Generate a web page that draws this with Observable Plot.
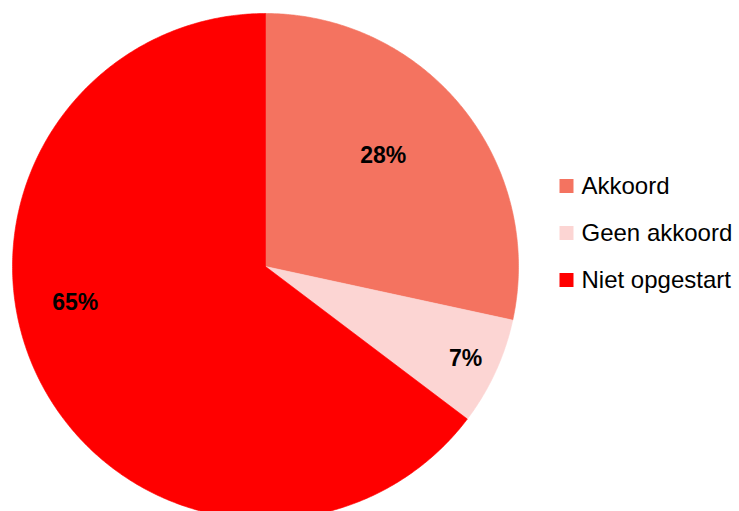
<!DOCTYPE html>
<html><head><meta charset="utf-8">
<script src="https://cdn.jsdelivr.net/npm/d3@7"></script>
<script src="https://cdn.jsdelivr.net/npm/@observablehq/plot@0.6"></script>
<style>body{margin:0;background:#fff}</style>
</head><body><div id="chart"></div>
<script>
const categories = ["Akkoord", "Geen akkoord", "Niet opgestart"];
const values = [28.4, 6.9, 64.7];
const labels = ["28%", "7%", "65%"];
const colors = ["#F47360", "#FCD5D3", "#FF0000"];

// layout
const W = 739, H = 511, cx = 265, cy = 266, R = 253;
const labelLayout = [{r: 0.64, da: -4.5}, {r: 0.87, da: 0}, {r: 0.765, da: 15.8}];
const legend = {x: 566, textX: 581, y0: 185.5, step: 47};

const total = d3.sum(values);
let acc = 0;
const slices = values.map((v, i) => {
  const a0 = acc / total * 2 * Math.PI; acc += v;
  const a1 = acc / total * 2 * Math.PI;
  return {cat: categories[i], a0, a1, label: labels[i], i};
});
const pts = [];
for (const s of slices) {
  pts.push({cat: s.cat, x: 0, y: 0});
  const n = Math.max(2, Math.ceil((s.a1 - s.a0) / (Math.PI / 360)));
  for (let k = 0; k <= n; k++) {
    const a = s.a0 + (s.a1 - s.a0) * k / n;
    pts.push({cat: s.cat, x: Math.sin(a), y: Math.cos(a)});
  }
  pts.push({cat: s.cat, x: 0, y: 0});
}
const labelPts = slices.map(s => {
  const L = labelLayout[s.i];
  const a = (s.a0 + s.a1) / 2 + L.da * Math.PI / 180;
  return {label: s.label, x: L.r * Math.sin(a), y: L.r * Math.cos(a)};
});
const legendPts = categories.map((c, i) => ({cat: c,
  x: (legend.x - cx) / R, tx: (legend.textX - cx) / R,
  y: (cy - (legend.y0 + i * legend.step)) / R}));

const chart = Plot.plot({
  width: W, height: H,
  marginTop: 0, marginRight: 0, marginBottom: 0, marginLeft: 0,
  x: {domain: [-cx / R, (W - cx) / R], range: [0, W], axis: null},
  y: {domain: [(cy - H) / R, cy / R], range: [H, 0], axis: null},
  color: {domain: categories, range: colors},
  marks: [
    Plot.line(pts, {x: "x", y: "y", z: "cat", fill: "cat", stroke: "cat", strokeWidth: 0.6, curve: "linear"}),
    Plot.text(labelPts, {x: "x", y: "y", text: "label", fontSize: 23, fontWeight: "bold", fill: "#000",
      fontFamily: "Liberation Sans, Arial, sans-serif"}),
    Plot.dot(legendPts, {x: "x", y: "y", fill: "cat", symbol: "square", r: 7.9, stroke: null}),
    Plot.text(legendPts, {x: "tx", y: "y", text: "cat", textAnchor: "start", fontSize: 24, fill: "#000",
      fontFamily: "Liberation Sans, Arial, sans-serif"})
  ]
});
document.getElementById("chart").appendChild(chart);
</script>
</body></html>
